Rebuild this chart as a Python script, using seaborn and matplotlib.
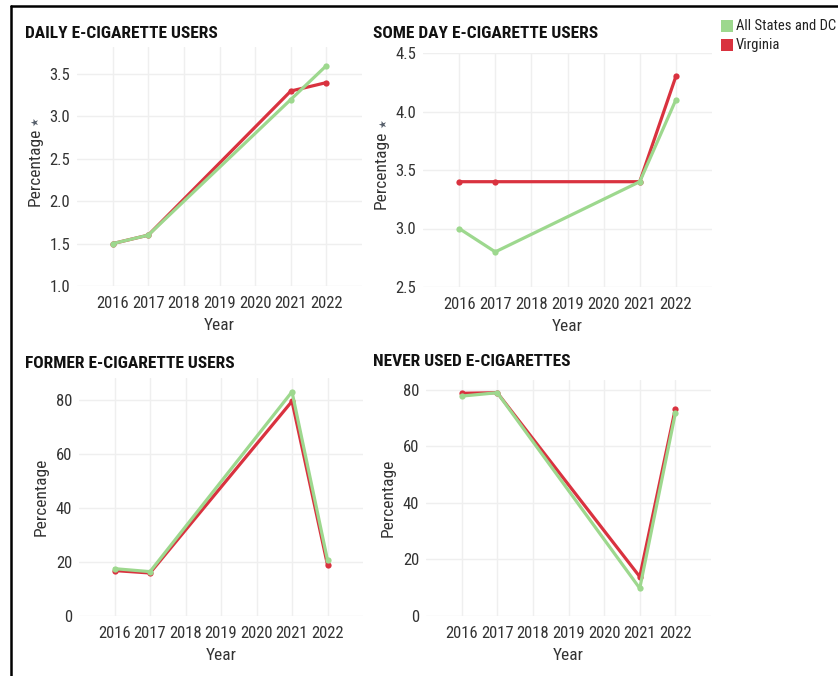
import matplotlib
matplotlib.use("Agg")
import matplotlib.pyplot as plt
import seaborn as sns
import pandas as pd
from matplotlib.patches import Rectangle
from matplotlib.lines import Line2D
import logging
logging.getLogger("matplotlib.font_manager").setLevel(logging.ERROR)

years = [2016, 2017, 2021, 2022]
year_ticks = [2016, 2017, 2018, 2019, 2020, 2021, 2022]
series = ["All States and DC", "Virginia"]

daily_all = [1.5, 1.6, 3.2, 3.6]
daily_va = [1.5, 1.6, 3.3, 3.4]
someday_all = [3.0, 2.8, 3.4, 4.1]
someday_va = [3.4, 3.4, 3.4, 4.3]
former_all = [17.5, 16.4, 82.9, 20.7]
former_va = [16.8, 15.9, 79.4, 18.9]
never_all = [77.8, 79.0, 9.8, 71.8]
never_va = [78.8, 79.0, 13.9, 73.4]

titles = ["DAILY E-CIGARETTE USERS", "SOME DAY E-CIGARETTE USERS",
          "FORMER E-CIGARETTE USERS", "NEVER USED E-CIGARETTES"]
yticks_list = [[1.0, 1.5, 2.0, 2.5, 3.0, 3.5],
               [2.5, 3.0, 3.5, 4.0, 4.5],
               [0, 20, 40, 60, 80],
               [0, 20, 40, 60, 80]]
ytick_labels = [["1.0", "1.5", "2.0", "2.5", "3.0", "3.5"],
                ["2.5", "3.0", "3.5", "4.0", "4.5"],
                ["0", "20", "40", "60", "80"],
                ["0", "20", "40", "60", "80"]]
ylims = [(1.0, 3.82), (2.5, 4.5), (0, 88), (0, 83.5)]

GREEN = "#9dd88e"
RED = "#d9323f"

sns.set_theme(style="white")
NARROW = ["Liberation Sans Narrow", "Arial Narrow", "Roboto Condensed",
          "Archivo Narrow", "PT Sans Narrow", "Fira Sans Condensed",
          "IBM Plex Sans Condensed", "Open Sans Condensed", "Liberation Sans",
          "DejaVu Sans"]
plt.rcParams["font.family"] = NARROW

W, H = 838, 676
fig = plt.figure(figsize=(W / 100, H / 100), dpi=100)
fig.patch.set_facecolor("white")

def rect(l, t, r, b):
    return [l / W, 1 - b / H, (r - l) / W, (b - t) / H]

boxes = [(77, 47, 362, 286), (423, 53, 712, 287), (79, 378, 363, 616), (426, 380, 711, 616)]
title_pos = [(25, 33), (373, 33), (25, 363), (373, 362)]
data_pairs = [(daily_all, daily_va), (someday_all, someday_va),
              (former_all, former_va), (never_all, never_va)]

for i in range(4):
    ax = fig.add_axes(rect(*boxes[i]))
    a_vals, v_vals = data_pairs[i]
    df = pd.DataFrame({
        "Year": years * 2,
        "Percentage": v_vals + a_vals,
        "Series": ["Virginia"] * 4 + ["All States and DC"] * 4,
    })
    sns.lineplot(data=df, x="Year", y="Percentage", hue="Series",
                 hue_order=["Virginia", "All States and DC"],
                 palette={"Virginia": RED, "All States and DC": GREEN},
                 marker="o", markersize=4.5, markeredgewidth=0,
                 linewidth=2.3, ax=ax, legend=False)
    ax.set_xlim(2015, 2023)
    ax.set_ylim(*ylims[i])
    ax.set_xticks(year_ticks)
    ax.set_xticklabels([str(y) for y in year_ticks])
    ax.set_yticks(yticks_list[i])
    ax.set_yticklabels(ytick_labels[i])
    ax.tick_params(axis="both", length=0, labelsize=12, colors="#333333")
    ax.tick_params(axis="x", pad=7)
    ax.tick_params(axis="y", pad=5)
    ax.grid(True, color="#efefef", linewidth=1)
    for s in ax.spines.values():
        s.set_visible(False)
    ax.set_xlabel("Year", fontsize=12.5, color="#333333", labelpad=5)
    ax.set_ylabel("Percentage", fontsize=12.5, color="#333333", labelpad=5)
    fig.text(title_pos[i][0] / W, 1 - title_pos[i][1] / H, titles[i],
             fontsize=12.5, fontweight="bold", color="#111111",
             ha="left", va="center")

# pin icons next to the y labels of the top panels
for (px, py) in [(35, 122), (383, 124)]:
    fig.text(px / W, 1 - py / H, "★", fontsize=7, color="#555e6a",
             ha="center", va="center", rotation=90, family=["DejaVu Sans"])

# legend
leg_items = [("All States and DC", GREEN, 26), ("Virginia", RED, 45)]
for label, col, cy in leg_items:
    fig.patches.append(Rectangle((721 / W, 1 - (cy + 6) / H), 12 / W, 12 / H,
                                 transform=fig.transFigure, facecolor=col,
                                 edgecolor="none"))
    fig.text(736 / W, 1 - cy / H, label, fontsize=10.5, color="#222222",
             ha="left", va="center")

# outer border
fig.add_artist(Line2D([11 / W, 1], [1 - 6 / H, 1 - 6 / H], transform=fig.transFigure,
                      color="black", linewidth=1.8))
fig.add_artist(Line2D([11 / W, 11 / W], [0, 1 - 6 / H], transform=fig.transFigure,
                      color="black", linewidth=1.8))

fig.savefig("out.png", dpi=100, facecolor="white")
